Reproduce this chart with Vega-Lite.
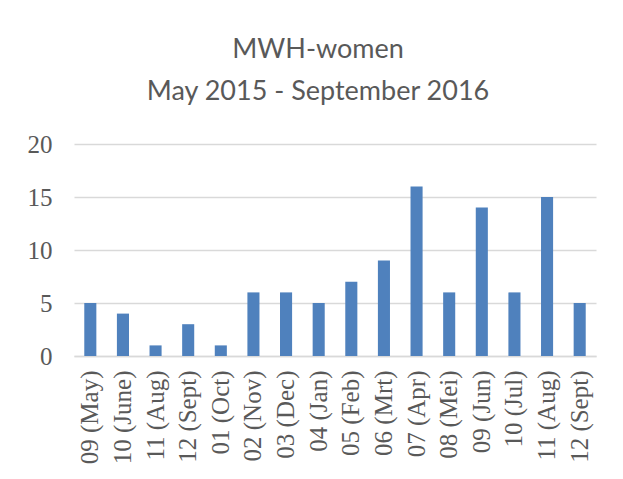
{
  "$schema": "https://vega.github.io/schema/vega-lite/v6.json",
  "width": 522,
  "height": 212,
  "autosize": {"type": "none"},
  "padding": {"left": 74, "top": 144, "right": 27, "bottom": 123},
  "background": "white",
  "title": {
    "text": ["MWH-women", "May 2015 - September 2016"],
    "font": "Lato",
    "fontSize": 27,
    "fontWeight": "normal",
    "color": "#595959",
    "lineHeight": 42,
    "offset": 26,
    "dx": -17
  },
  "data": {
    "values": [
      {"period": "2015 09 (May)", "count": 5},
      {"period": "2015 10 (June)", "count": 4},
      {"period": "2015 11 (Aug)", "count": 1},
      {"period": "2015 12 (Sept)", "count": 3},
      {"period": "2015 01 (Oct)", "count": 1},
      {"period": "2015 02 (Nov)", "count": 6},
      {"period": "2015 03 (Dec)", "count": 6},
      {"period": "2016 04 (Jan)", "count": 5},
      {"period": "2016 05 (Feb)", "count": 7},
      {"period": "2016 06 (Mrt)", "count": 9},
      {"period": "2016 07 (Apr)", "count": 16},
      {"period": "2016 08 (Mei)", "count": 6},
      {"period": "2016 09 (Jun)", "count": 14},
      {"period": "2016 10 (Jul)", "count": 6},
      {"period": "2016 11 (Aug)", "count": 15},
      {"period": "2016 12 (Sept)", "count": 5}
    ]
  },
  "mark": {"type": "bar", "color": "#4f81bd"},
  "encoding": {
    "x": {
      "field": "period",
      "type": "nominal",
      "sort": null,
      "scale": {"paddingInner": 0.63, "paddingOuter": 0.315},
      "axis": {
        "title": null,
        "labelExpr": "slice(datum.label, 5)",
        "labelAngle": -90,
        "labelFont": "Liberation Serif",
        "labelFontSize": 25,
        "labelColor": "#595959",
        "labelPadding": 14,
        "ticks": false,
        "domainColor": "#d9d9d9",
        "domainWidth": 1.5
      }
    },
    "y": {
      "field": "count",
      "type": "quantitative",
      "scale": {"domain": [0, 20]},
      "axis": {
        "title": null,
        "values": [0, 5, 10, 15, 20],
        "labelFont": "Liberation Serif",
        "labelFontSize": 25,
        "labelColor": "#595959",
        "labelPadding": 22,
        "ticks": false,
        "domain": false,
        "gridColor": "#d9d9d9",
        "gridWidth": 1.5
      }
    }
  },
  "config": {"view": {"stroke": null}}
}
